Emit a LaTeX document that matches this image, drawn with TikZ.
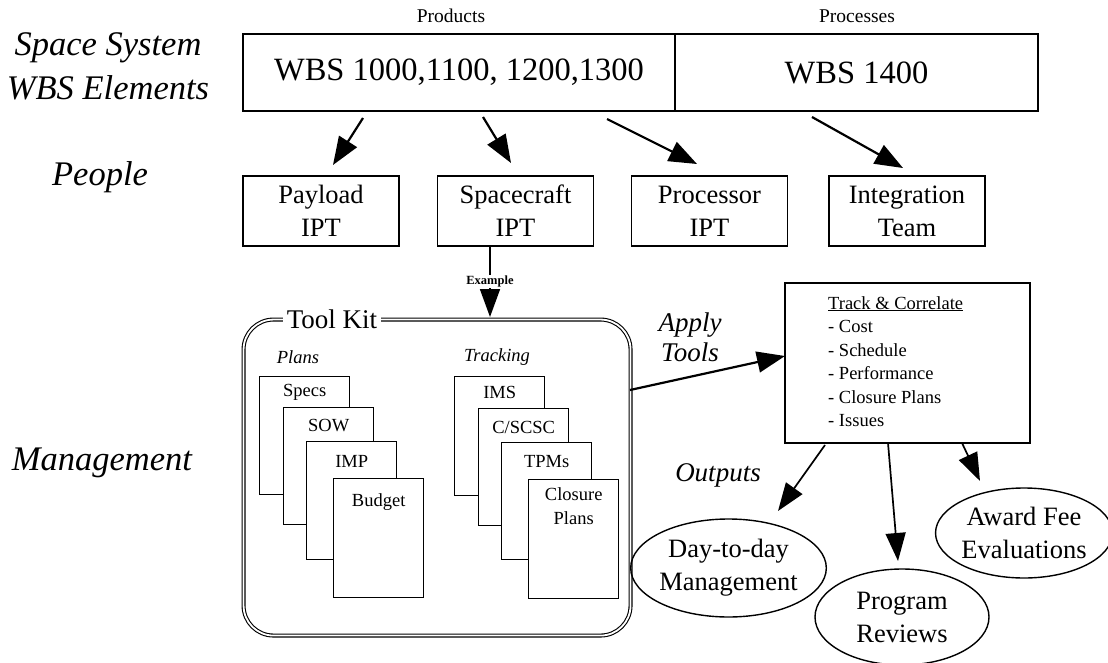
\documentclass[tikz,border=0pt]{standalone}
\usepackage{fontspec}
\setmainfont{Liberation Serif}
\usetikzlibrary{arrows.meta,shapes.geometric,calc}
\newcommand\fsz[2]{\fontsize{#1}{#2}\selectfont}
\begin{document}
\begin{tikzpicture}[x=1pt,y=-1pt,
  lab/.style={font=\fsz{34.5}{38}\itshape, align=center, inner sep=0},
  hdr/.style={font=\fsz{19.5}{22}, inner sep=0},
  wbsbox/.style={draw, line width=1.6pt, minimum height=77pt, inner sep=0, font=\fsz{32.5}{36}},
  ipt/.style={draw, line width=1.6pt, minimum width=156pt, minimum height=70pt, inner sep=0, align=center, font=\fsz{26.5}{33}},
  page/.style={draw, fill=white, line width=1.4pt, minimum width=90pt, inner sep=0, anchor=north west},
  pagetxt/.style={font=\fsz{18.5}{24}, align=center, inner sep=0},
  subhdr/.style={font=\fsz{18.5}{22}\itshape, inner sep=0},
  midlab/.style={font=\fsz{27}{30}\itshape, align=center, inner sep=0},
  outbox/.style={draw, ellipse, line width=1.4pt, inner sep=0, align=center, font=\fsz{26.5}{33}},
  arr/.style={-{Triangle[length=28pt,width=21pt]}, line width=2.2pt},
  arrthin/.style={-{Triangle[length=28pt,width=20pt]}, line width=1.7pt}
]
\useasboundingbox (0,0) rectangle (1108,663);

% left labels
\node[lab] (ss) at (108,48) {Space System};
\node[lab] (we) at (108,88) {WBS Elements};
\node[lab] (people) at (100,177) {People};
\node[lab] (mgmt) at (102,463) {Management};

% top headers and WBS boxes
\node[hdr] (products) at (451,16) {Products};
\node[hdr] (processes) at (857,16) {Processes};
\node[wbsbox, minimum width=432pt] (prod) at (459,72.5) {WBS 1000,1100, 1200,1300};
\node[wbsbox, minimum width=363pt] (proc) at (856.5,72.5) {WBS 1400};

% people boxes
\node[ipt] (payload) at (321,211) {Payload\\IPT};
\node[ipt] (space) at (515.5,211) {Spacecraft\\IPT};
\node[ipt] (processor) at (709.5,211) {Processor\\IPT};
\node[ipt] (integ) at (907,211) {Integration\\Team};

% arrows WBS -> people
\coordinate (a1s) at (363,118); \coordinate (a1e) at (333,165);
\coordinate (a2s) at (483,117); \coordinate (a2e) at (511,163);
\coordinate (a3s) at (607,119); \coordinate (a3e) at (697,164);
\coordinate (a4s) at (812,117); \coordinate (a4e) at (903,168);
\draw[arr] (a1s) -- (a1e);
\draw[arr] (a2s) -- (a2e);
\draw[arr] (a3s) -- (a3e);
\draw[arr] (a4s) -- (a4e);

% tool kit frame
\node[draw, rounded corners=30pt, double, double distance=1.8pt, line width=1.1pt,
      minimum width=387pt, minimum height=316pt, anchor=north west, inner sep=0] (toolkit) at (243,319) {};
\node[fill=white, font=\fsz{27}{30}, inner xsep=4pt, inner ysep=0] (tktitle) at (332,319) {Tool Kit};

% example arrow
\coordinate (exs) at (490,246);
\coordinate (exe) at (490,317);
\draw[arrthin] (exs) -- node[fill=white, font=\fsz{12.5}{14}\bfseries, inner sep=1pt] (exlab) {Example} (exe);

% plans
\node[subhdr] (plans) at (298,357) {Plans};
\node[subhdr] (tracking) at (497,357) {Tracking};

\node[page, minimum height=118pt] (specs) at (259,376) {};
\node[pagetxt] at ($(specs.north)+(0,16)$) {Specs};
\node[page, minimum height=117pt] (sow) at (283,407) {};
\node[pagetxt] at ($(sow.north)+(0,19)$) {SOW};
\node[page, minimum height=118pt] (imp) at (306,441) {};
\node[pagetxt] at ($(imp.north)+(0,20)$) {IMP};
\node[page, minimum height=119pt] (budget) at (333,478) {};
\node[pagetxt] at ($(budget.north)+(0,24)$) {Budget};

\node[page, minimum height=119pt] (ims) at (454,376) {};
\node[pagetxt] at ($(ims.north)+(0,16)$) {IMS};
\node[page, minimum height=117pt] (cscsc) at (478,408) {};
\node[pagetxt] at ($(cscsc.north)+(0,19)$) {C/SCSC};
\node[page, minimum height=117pt] (tpms) at (501,442) {};
\node[pagetxt] at ($(tpms.north)+(0,20)$) {TPMs};
\node[page, minimum height=119pt] (closure) at (528,479) {};
\node[pagetxt, anchor=north] at ($(closure.north)+(0,8)$) {Closure\\Plans};

% track & correlate
\node[draw, line width=1.8pt, minimum width=245pt, minimum height=160pt, inner sep=0] (track) at (907.5,363) {};
\node[anchor=north west, align=left, font=\fsz{18.5}{23.5}, inner sep=0] (tracktxt) at (828,296)
  {\underline{Track \& Correlate}\\- Cost\\- Schedule\\- Performance\\- Closure Plans\\- Issues};

\node[midlab] (apply) at (690,337) {Apply\\Tools};
\coordinate (aps) at (630,390);
\coordinate (ape) at (785,356);
\draw[arr] (aps) -- (ape);

\node[midlab] (outputs) at (718,475) {Outputs};

% outputs
\node[outbox, minimum width=173pt, minimum height=98pt] (day) at (728.5,568) {Day-to-day\\Management};
\node[outbox, minimum width=174pt, minimum height=96pt] (review) at (902,617) {Program\\Reviews};
\node[outbox, minimum width=167pt, minimum height=90pt] (award) at (1024,533) {Award Fee\\Evaluations};

\coordinate (o1s) at (825,445); \coordinate (o1e) at (778,511);
\coordinate (o2s) at (888,443); \coordinate (o2e) at (898,561);
\coordinate (o3s) at (962,443); \coordinate (o3e) at (980,481);
\draw[arrthin] (o1s) -- (o1e);
\draw[arrthin] (o2s) -- (o2e);
\draw[arrthin] (o3s) -- (o3e);
\end{tikzpicture}
\end{document}
